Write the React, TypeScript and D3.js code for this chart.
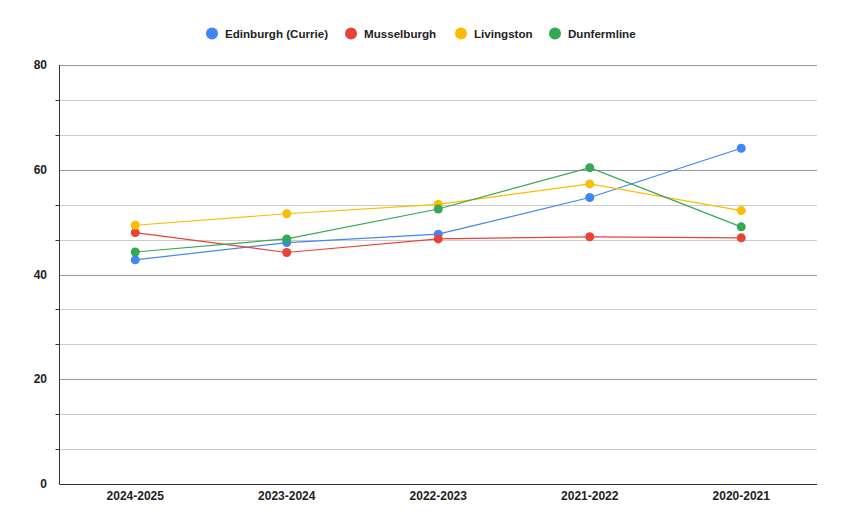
import React from 'react';
import * as d3 from 'd3';

const years = ['2024-2025', '2023-2024', '2022-2023', '2021-2022', '2020-2021'];
const edinburgh = [42.8, 46.1, 47.7, 54.7, 64.1];
const musselburgh = [48.0, 44.2, 46.8, 47.2, 47.0];
const livingston = [49.4, 51.6, 53.4, 57.3, 52.2];
const dunfermline = [44.3, 46.8, 52.5, 60.4, 49.1];
const yTicks = [0, 20, 40, 60, 80];

const series = [
  { name: 'Edinburgh (Currie)', values: edinburgh, color: '#4285f4' },
  { name: 'Musselburgh', values: musselburgh, color: '#ea4335' },
  { name: 'Livingston', values: livingston, color: '#fbbc04' },
  { name: 'Dunfermline', values: dunfermline, color: '#34a853' },
];

const W = 844;
const H = 531;
const margin = { top: 65, right: 27, bottom: 47, left: 59.5 };
const font = '"Liberation Sans", Arial, sans-serif';

export default function App() {
  const x = d3.scalePoint<string>()
    .domain(years)
    .range([margin.left, W - margin.right])
    .padding(0.5);
  const y = d3.scaleLinear().domain([0, 80]).range([H - margin.bottom, margin.top]);

  const minor = d3.range(0, 80.01, 80 / 12);
  const line = d3.line<number>()
    .x((_, i) => x(years[i])!)
    .y(d => y(d));

  // legend layout (centered)
  const legendX = [212, 351, 461, 555];

  return (
    <svg width={W} height={H} style={{ position: 'absolute', left: 0, top: 0, background: '#fff' }}
      fontFamily={font}>
      {/* gridlines */}
      {minor.map((v, i) => (
        <line key={'g' + i} x1={margin.left} x2={W - margin.right}
          y1={Math.round(y(v)) + 0.5} y2={Math.round(y(v)) + 0.5}
          stroke={i % 3 === 0 ? '#999' : '#ccc'} strokeWidth={1} />
      ))}
      {/* minor ticks */}
      {minor.filter((_, i) => i % 3 !== 0).map((v, i) => (
        <line key={'t' + i} x1={margin.left - 4} x2={margin.left}
          y1={Math.round(y(v)) + 0.5} y2={Math.round(y(v)) + 0.5} stroke="#333" />
      ))}
      {/* axes */}
      <line x1={margin.left} x2={margin.left} y1={margin.top} y2={H - margin.bottom} stroke="#333" />
      <line x1={margin.left} x2={W - margin.right} y1={Math.round(y(0)) + 0.5} y2={Math.round(y(0)) + 0.5} stroke="#333" />
      {yTicks.map(t => (
        <text key={'y' + t} x={47} y={y(t)} dy="0.35em" textAnchor="end"
          fontSize={12} fontWeight="bold" fill="#222">{t}</text>
      ))}
      {years.map(yr => (
        <text key={yr} x={x(yr)} y={500} textAnchor="middle" fontSize={12} fontWeight="bold" fill="#222">{yr}</text>
      ))}
      {/* series */}
      {series.map(s => (
        <g key={s.name}>
          <path d={line(s.values)!} fill="none" stroke={s.color} strokeWidth={1.2} />
          {s.values.map((v, i) => (
            <circle key={i} cx={x(years[i])} cy={y(v)} r={4.5} fill={s.color} />
          ))}
        </g>
      ))}
      {/* legend */}
      {series.map((s, i) => (
        <g key={'l' + s.name} transform={`translate(${legendX[i]},33.5)`}>
          <circle r={6} fill={s.color} />
          <text x={13} dy="0.35em" fontSize={11.6} fontWeight="bold" fill="#222">{s.name}</text>
        </g>
      ))}
    </svg>
  );
}
